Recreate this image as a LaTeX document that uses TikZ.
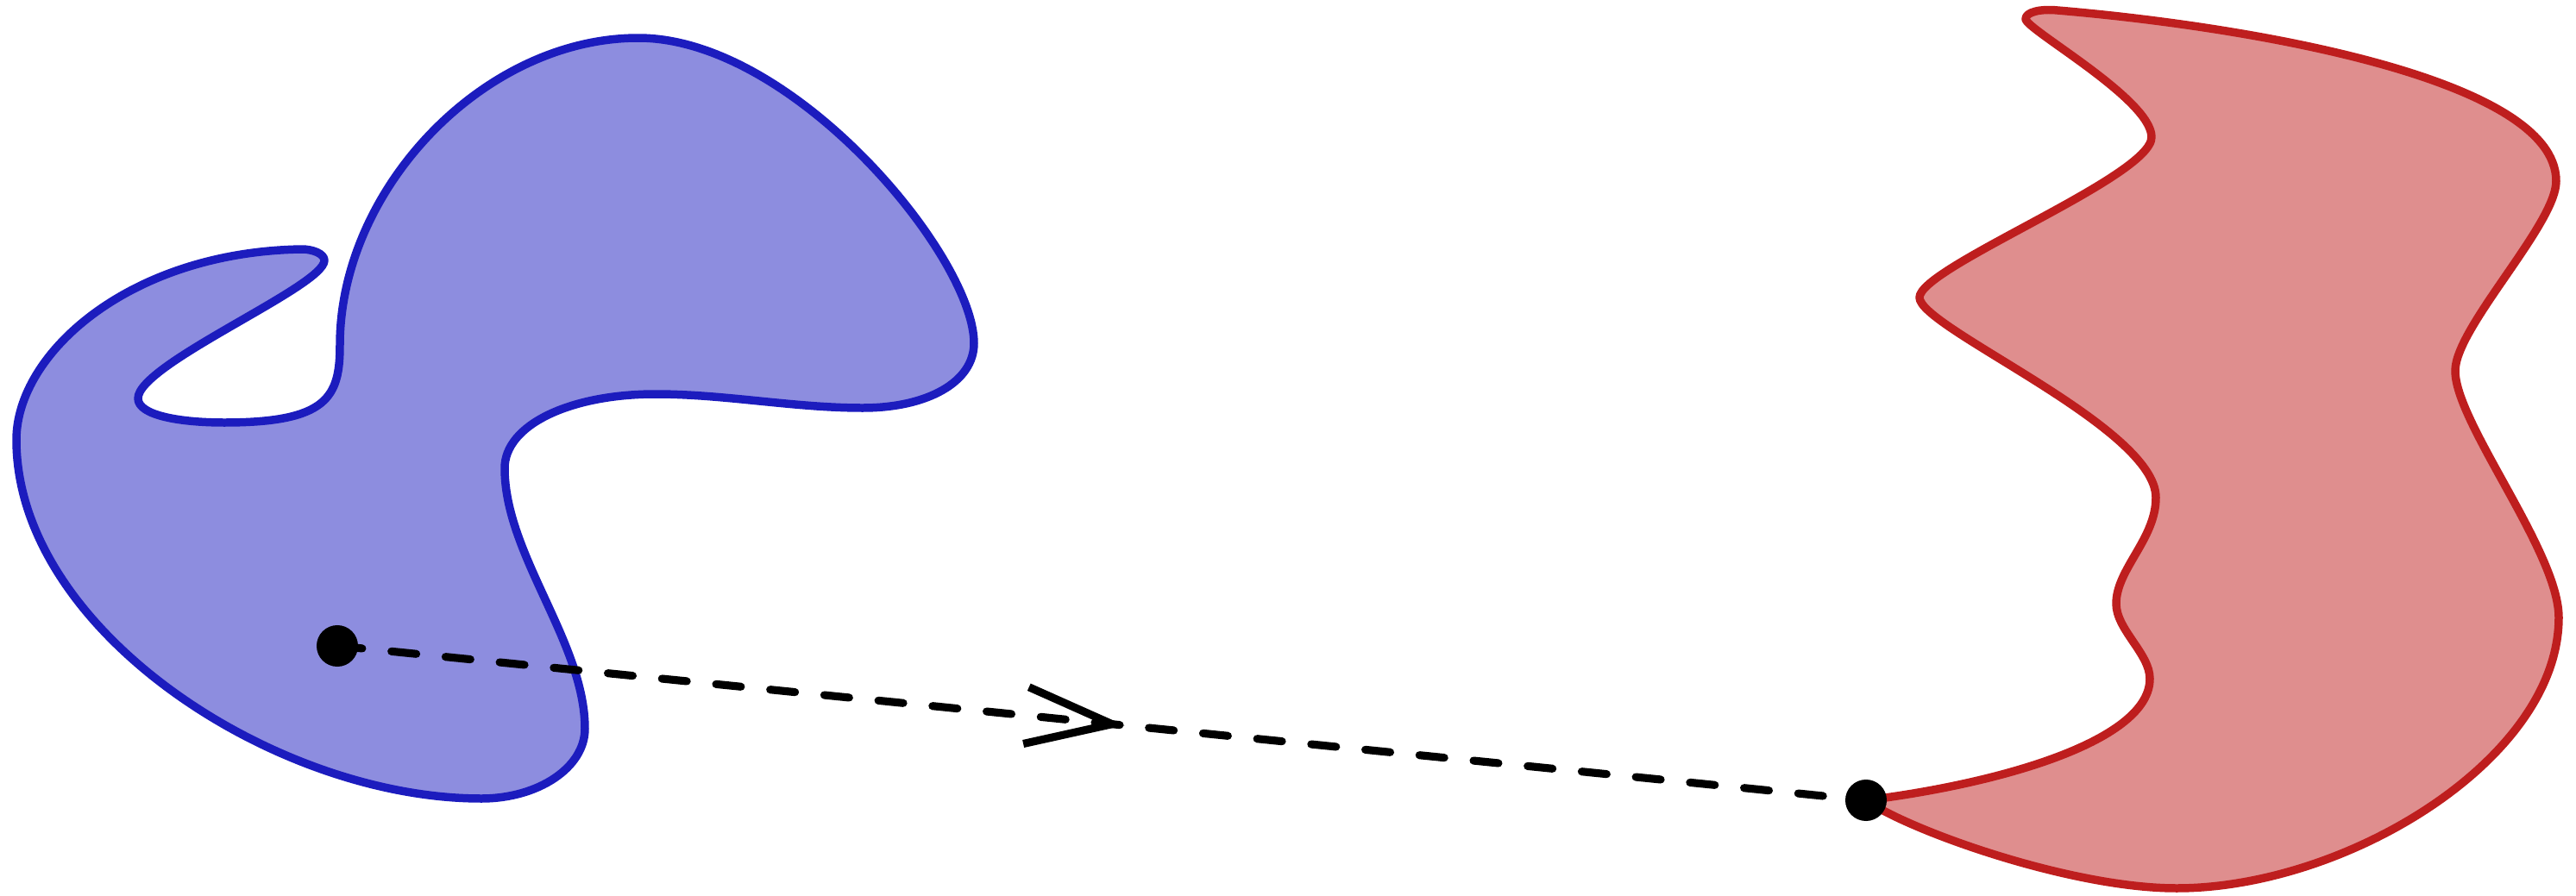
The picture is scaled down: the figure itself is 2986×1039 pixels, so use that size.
\documentclass[tikz,border=0pt]{standalone}
\usetikzlibrary{arrows.meta,decorations.markings}
\definecolor{BlobBlue}{HTML}{1C1CBE}
\definecolor{BlobRed}{HTML}{BE1E1E}

\begin{document}
\begin{tikzpicture}[x=0.01cm,y=-0.01cm,
    blob/.style={line width=2.7pt,line join=round},
    dot/.style={circle,fill=black,inner sep=0pt,minimum size=0.48cm},
    path/.style={line width=2.6pt,line cap=round,dash pattern=on 0.29cm off 0.34cm,
      postaction={decorate},
      decoration={markings,mark=at position 0.515 with {\arrow{Straight Barb[length=1cm,width=0.66cm]}}}}]
    \useasboundingbox (0,0) rectangle (2986,1039);

    % left region
    \draw[blob,draw=BlobBlue,fill=BlobBlue!50]
      (376,302) .. controls (376,294) and (362,289) .. (350,289)
      .. controls (150,292) and (19,410) .. (19,510)
      .. controls (19,730) and (318,926) .. (558,926)
      .. controls (624,926) and (678,890) .. (678,845)
      .. controls (678,745) and (585,643) .. (585,543)
      .. controls (585,493) and (660,457) .. (760,457)
      .. controls (840,457) and (920,473) .. (1000,473)
      .. controls (1075,473) and (1129,443) .. (1129,398)
      .. controls (1129,298) and (920,44) .. (740,44)
      .. controls (560,44) and (394,220) .. (394,400)
      .. controls (394,460) and (380,490) .. (260,490)
      .. controls (210,490) and (160,482) .. (160,462)
      .. controls (160,422) and (376,332) .. (376,302) -- cycle;

    % right region
    \draw[blob,draw=BlobRed,fill=BlobRed!50]
      (2163,928) .. controls (2323,908) and (2492,858) .. (2492,787)
      .. controls (2492,758) and (2453,730) .. (2453,700)
      .. controls (2453,660) and (2499,625) .. (2499,577)
      .. controls (2499,495) and (2225,380) .. (2225,345)
      .. controls (2225,310) and (2494,205) .. (2494,159)
      .. controls (2494,115) and (2348,34) .. (2348,22)
      .. controls (2348,14) and (2365,10) .. (2385,12)
      .. controls (2600,30) and (2963,90) .. (2963,210)
      .. controls (2963,260) and (2846,380) .. (2846,430)
      .. controls (2846,490) and (2966,640) .. (2966,716)
      .. controls (2966,880) and (2720,1030) .. (2523,1030)
      .. controls (2400,1030) and (2213,963) .. (2163,928) -- cycle;

    \node[dot] (start) at (391,749) {};
    \node[dot] (end) at (2163,928) {};
    \draw[path] (start.center) -- (end.center);
\end{tikzpicture}
\end{document}
